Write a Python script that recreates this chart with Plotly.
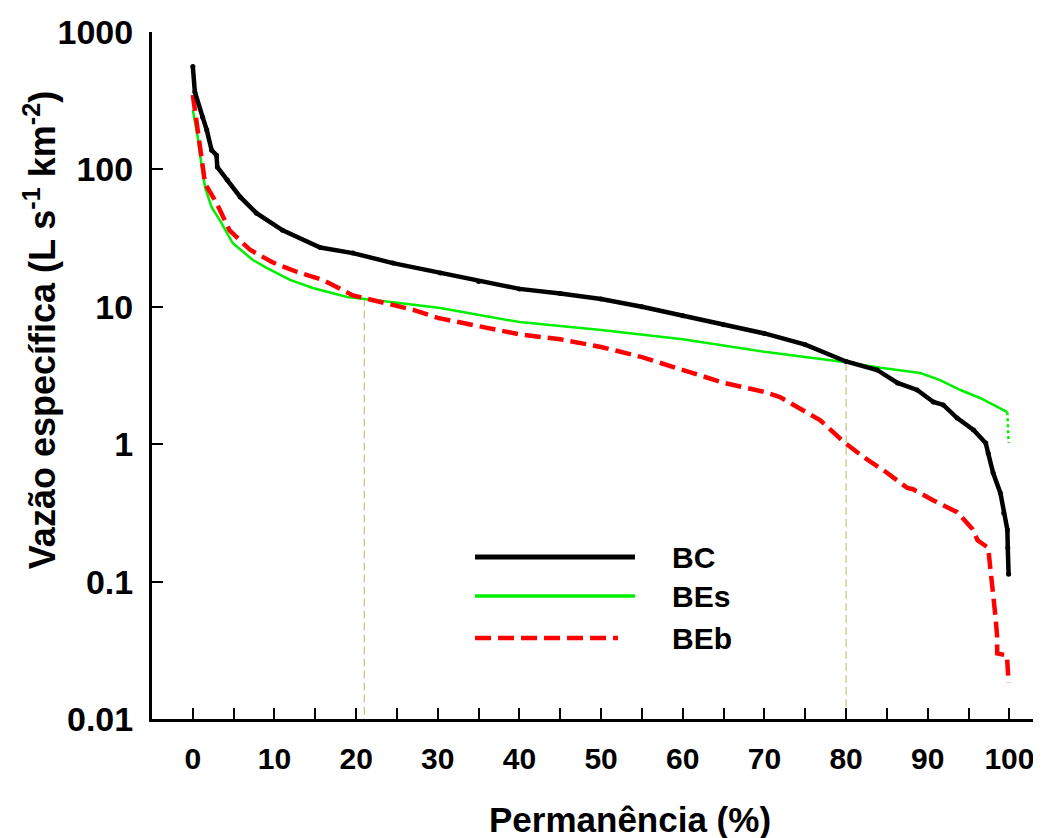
import plotly.graph_objects as go

# ---------------- data ----------------
bc_x = [0, 0.25, 1.2, 1.7, 2.3, 2.9, 3.0, 4.2, 5.8, 7.8, 11, 15.6, 19.6, 24.5, 30.3,
        35, 40, 45, 50, 55, 60, 65, 70, 75, 80, 83.8, 86.3, 88.7, 90.7, 91.9,
        93.6, 95.6, 97.1, 97.4, 98.0, 98.9, 99.3, 99.75, 99.8, 99.9]
bc_y = [560, 366, 240, 194, 138, 127, 104, 84, 63, 48, 36, 27, 24.6, 20.8, 17.6,
        15.3, 13.5, 12.5, 11.4, 10.0, 8.6, 7.4, 6.4, 5.3, 4.0, 3.47, 2.79, 2.48, 2.03, 1.93,
        1.55, 1.27, 1.02, 0.86, 0.62, 0.44, 0.316, 0.238, 0.176, 0.113]

bes_x = [0, 0.6, 1.1, 1.5, 2.3, 3.3, 4.9, 7.35, 9.1, 11.9, 14.7, 18.9, 24.5, 30.3,
         40, 50, 60, 70, 80, 84.2, 89.1, 91.5, 94, 96.4, 99.75]
bes_y = [270, 172, 104, 74, 53, 42.8, 29, 21.9, 19.1, 15.7, 13.7, 11.8, 10.8, 9.8,
         7.74, 6.78, 5.8, 4.7, 3.95, 3.6, 3.3, 2.93, 2.48, 2.17, 1.71]
bes_tail_x = [99.75, 99.9]
bes_tail_y = [1.71, 1.02]

beb_x = [0, 0.6, 1.1, 1.5, 2.9, 4.5, 7.0, 9.8, 12.7, 15.9, 19.6, 22.1, 27.0, 30,
         35, 40, 45, 50, 55, 60, 65, 70, 71.9, 76.8, 79.7, 82.1, 85.0, 87.5, 88.2,
         90.7, 93.6, 95.5, 96.1, 97.4, 97.9, 98.3, 98.5, 98.5, 99.7, 99.9]
beb_y = [348, 194, 117, 79, 57, 36, 26, 21, 18, 15.7, 12.1, 11.2, 9.5, 8.3,
         7.2, 6.3, 5.8, 5.1, 4.3, 3.5, 2.8, 2.4, 2.2, 1.5, 1.04, 0.81, 0.62, 0.48, 0.47,
         0.39, 0.32, 0.24, 0.2, 0.176, 0.098, 0.055, 0.0395, 0.030, 0.029, 0.0183]

ref_x = [21, 80]
ref_top = [11.5, 3.9]
ref_bottom = 0.01

x_ticks = [0, 10, 20, 30, 40, 50, 60, 70, 80, 90, 100]
y_ticks = [0.01, 0.1, 1, 10, 100, 1000]
y_ticktext = ["0.01", "0.1", "1", "10", "100", "1000"]

series_names = ["BC", "BEs", "BEb"]
series_colors = ["#000000", "#00ee00", "#ff0000"]

FONT = "Liberation Sans, Arial"

# ---------------- figure ----------------
fig = go.Figure()

for xv, top in zip(ref_x, ref_top):
    fig.add_trace(go.Scatter(x=[xv, xv], y=[top, ref_bottom], mode="lines",
                             line=dict(color="#c9c27a", width=1.2, dash="8px,4px"),
                             showlegend=False, hoverinfo="skip"))

fig.add_trace(go.Scatter(x=bes_x, y=bes_y, mode="lines",
                         line=dict(color=series_colors[1], width=2.5),
                         showlegend=False))
fig.add_trace(go.Scatter(x=bes_tail_x, y=bes_tail_y, mode="lines",
                         line=dict(color=series_colors[1], width=2.5, dash="dot"),
                         showlegend=False))
fig.add_trace(go.Scatter(x=beb_x, y=beb_y, mode="lines",
                         line=dict(color=series_colors[2], width=4.5, dash="16px,7px"),
                         showlegend=False))
fig.add_trace(go.Scatter(x=bc_x, y=bc_y, mode="lines+markers",
                         line=dict(color=series_colors[0], width=4.5),
                         marker=dict(color=series_colors[0], size=5),
                         showlegend=False))

# manual legend (long line samples as in the reference)
leg_y = [0.2358, 0.179, 0.1179]
leg_x1 = [0.5451, 0.5451, 0.526]
leg_w = [5, 3.5, 4.5]
leg_dash = ["solid", "solid", "16px,7px"]
for name, col, yy, x1, w, d in zip(series_names, series_colors, leg_y, leg_x1, leg_w, leg_dash):
    fig.add_shape(type="line", xref="paper", yref="paper", x0=0.3646, x1=x1, y0=yy, y1=yy,
                  line=dict(color=col, width=w, dash=d))
    fig.add_annotation(xref="paper", yref="paper", x=0.5847, y=yy, text=name,
                       showarrow=False, xanchor="left", yanchor="middle",
                       font=dict(family=FONT, size=30, color="black", weight="bold"))

# axis titles
fig.add_annotation(xref="paper", yref="paper", x=0.5395, y=-0.147,
                   text="Permanência (%)", showarrow=False,
                   xanchor="center", yanchor="middle",
                   font=dict(family=FONT, size=35, color="black", weight="bold"))
fig.add_annotation(xref="paper", yref="paper", x=-0.1264, y=0.566,
                   text="Vazão específica (L s<sup>-1</sup> km<sup>-2</sup>)", showarrow=False,
                   textangle=-90, xanchor="center", yanchor="middle",
                   font=dict(family=FONT, size=36, color="black", weight="bold"))

fig.update_xaxes(range=[-5, 103.5], showline=True, linewidth=3, linecolor="black",
                 tickvals=x_ticks, ticks="inside", ticklen=11, tickwidth=2, tickcolor="black",
                 minor=dict(ticks="inside", dtick=5, tick0=0, ticklen=11, tickwidth=2,
                            tickcolor="black", showgrid=False),
                 showgrid=False, zeroline=False, ticklabelstandoff=11,
                 tickfont=dict(family=FONT, size=30, color="black", weight="bold"))
fig.update_yaxes(type="log", range=[-2, 3], showline=True, linewidth=3, linecolor="black",
                 tickvals=y_ticks, ticktext=y_ticktext, ticks="inside", ticklen=11,
                 tickwidth=2, tickcolor="black", showgrid=False, zeroline=False,
                 ticklabelstandoff=9,
                 tickfont=dict(family=FONT, size=34, color="black", weight="bold"))

# the page body adds an 8px offset, so the figure is sized to fit inside the window
fig.update_layout(width=1033, height=830,
                  margin=dict(l=144, r=3, t=24, b=119, autoexpand=False),
                  paper_bgcolor="white", plot_bgcolor="white",
                  showlegend=False)

fig.write_html("out.html")
